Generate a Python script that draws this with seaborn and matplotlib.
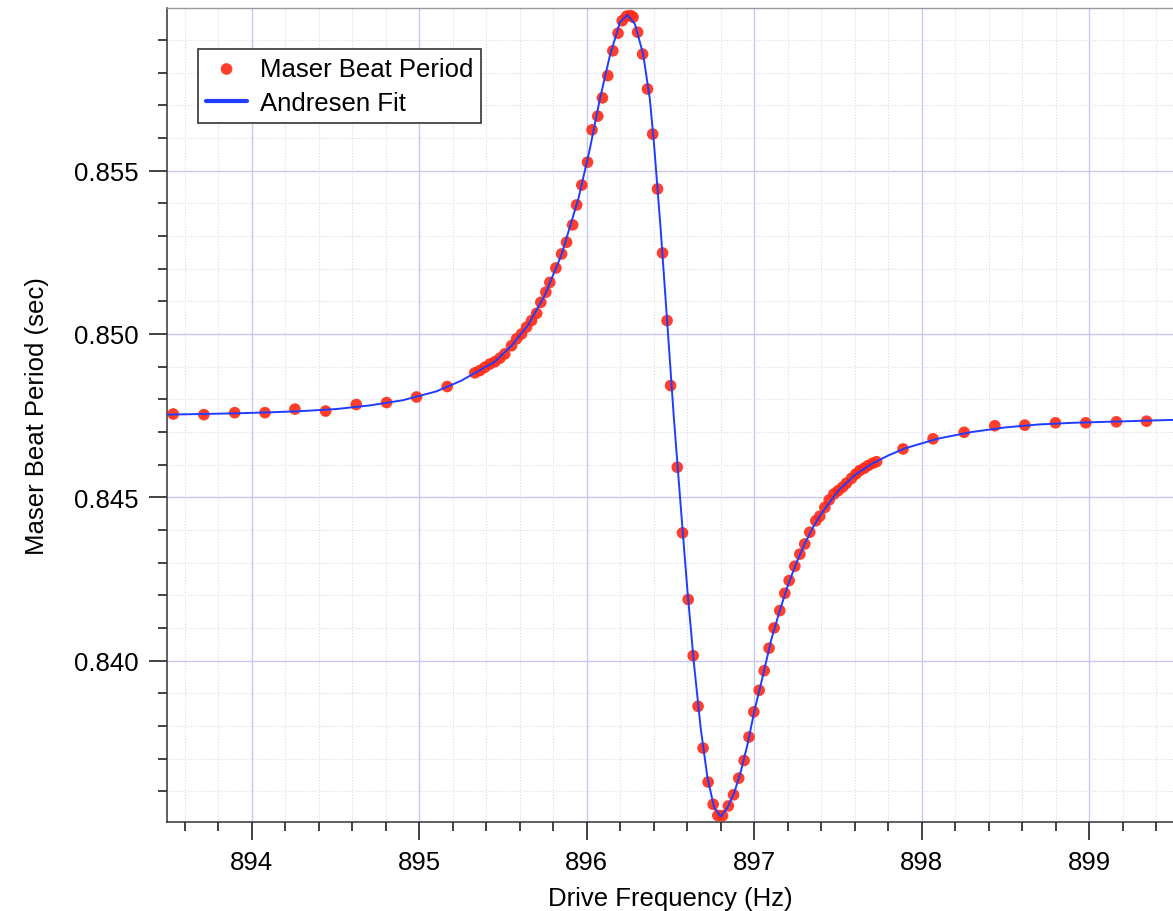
import matplotlib
matplotlib.use("Agg")
import matplotlib.pyplot as plt
import seaborn as sns
import pandas as pd
from matplotlib.ticker import MultipleLocator, FormatStrFormatter

# ---- data ----
freq = [893.530, 893.713, 893.897, 894.078, 894.257, 894.440, 894.623, 894.804, 894.983, 895.166,
        895.331, 895.361, 895.391, 895.421, 895.451, 895.481, 895.510, 895.550, 895.580, 895.610,
        895.640, 895.670, 895.700, 895.725, 895.755, 895.779, 895.815, 895.849, 895.879, 895.915,
        895.939, 895.970, 896.004, 896.031, 896.065, 896.093, 896.125, 896.155, 896.186, 896.211,
        896.237, 896.261, 896.276, 896.303, 896.333, 896.362, 896.393, 896.422, 896.452, 896.479,
        896.500, 896.540, 896.571, 896.605, 896.635, 896.664, 896.694, 896.724, 896.754, 896.782,
        896.810, 896.845, 896.876, 896.907, 896.939, 896.968, 896.997, 897.029, 897.059, 897.088,
        897.118, 897.152, 897.182, 897.208, 897.242, 897.272, 897.301, 897.331, 897.367, 897.391,
        897.421, 897.447, 897.475, 897.500, 897.527, 897.550, 897.580, 897.606, 897.630, 897.656,
        897.679, 897.706, 897.730, 897.888, 898.067, 898.253, 898.436, 898.615, 898.798, 898.979,
        899.162, 899.342]
period = [0.84755, 0.84753, 0.84759, 0.84759, 0.84770, 0.84764, 0.84784, 0.84790, 0.84807, 0.84839,
          0.84881, 0.84888, 0.84898, 0.84908, 0.84915, 0.84926, 0.84939, 0.84964, 0.84985, 0.85000,
          0.85021, 0.85041, 0.85063, 0.85097, 0.85128, 0.85158, 0.85202, 0.85245, 0.85281, 0.85334,
          0.85395, 0.85456, 0.85526, 0.85625, 0.85667, 0.85723, 0.85791, 0.85867, 0.85921, 0.85959,
          0.85973, 0.85975, 0.85970, 0.85924, 0.85857, 0.85750, 0.85612, 0.85444, 0.85248, 0.85041,
          0.84842, 0.84592, 0.84391, 0.84187, 0.84015, 0.83860, 0.83732, 0.83628, 0.83560, 0.83526,
          0.83525, 0.83555, 0.83589, 0.83640, 0.83694, 0.83766, 0.83843, 0.83909, 0.83969, 0.84038,
          0.84100, 0.84153, 0.84206, 0.84245, 0.84289, 0.84326, 0.84357, 0.84393, 0.84428, 0.84442,
          0.84469, 0.84492, 0.84510, 0.84520, 0.84531, 0.84543, 0.84558, 0.84571, 0.84582, 0.84589,
          0.84597, 0.84604, 0.84609, 0.84648, 0.84679, 0.84699, 0.84719, 0.84721, 0.84728, 0.84728,
          0.84731, 0.84733]

fit_freq = [893.49, 893.70, 893.90, 894.10, 894.30, 894.50, 894.70, 894.90, 895.10, 895.25,
            895.35, 895.45, 895.55, 895.65, 895.75, 895.85, 895.95, 896.018, 896.078, 896.137,
            896.197, 896.241, 896.287, 896.336, 896.376, 896.40, 896.44, 896.48, 896.52, 896.56,
            896.60, 896.64, 896.68, 896.72, 896.76, 896.80, 896.84, 896.88, 896.92, 896.96,
            897.00, 897.05, 897.10, 897.15, 897.20, 897.25, 897.30, 897.35, 897.40, 897.50,
            897.60, 897.70, 897.80, 897.90, 898.10, 898.30, 898.50, 898.70, 898.90, 899.10,
            899.30, 899.50]
fit_period = [0.84753, 0.84755, 0.84757, 0.84760, 0.84764, 0.84770, 0.84781, 0.84797, 0.84824, 0.84857,
              0.84886, 0.84915, 0.84964, 0.85028, 0.85120, 0.85245, 0.85415, 0.85567, 0.85720, 0.85851,
              0.85954, 0.85977, 0.85949, 0.85857, 0.85720, 0.85588, 0.85326, 0.85035, 0.84740, 0.84476,
              0.84217, 0.83988, 0.83792, 0.83642, 0.83550, 0.83522, 0.83550, 0.83595, 0.83662, 0.83745,
              0.83845, 0.83951, 0.84062, 0.84150, 0.84230, 0.84298, 0.84357, 0.84408, 0.84450, 0.84520,
              0.84568, 0.84602, 0.84628, 0.84650, 0.84680, 0.84700, 0.84714, 0.84723, 0.84728, 0.84731,
              0.84734, 0.84737]

x_ticks = [894, 895, 896, 897, 898, 899]
y_ticks = [0.840, 0.845, 0.850, 0.855]
x_label = "Drive Frequency (Hz)"
y_label = "Maser Beat Period (sec)"
data_label = "Maser Beat Period"
fit_label = "Andresen Fit"

df = pd.DataFrame({"freq": freq, "period": period})
df_fit = pd.DataFrame({"freq": fit_freq, "period": fit_period})

sns.set_style("white")
plt.rcParams["font.family"] = ["Liberation Sans", "DejaVu Sans"]
plt.rcParams["text.color"] = "black"
plt.rcParams["axes.labelcolor"] = "black"
plt.rcParams["xtick.color"] = "black"
plt.rcParams["ytick.color"] = "black"

fig = plt.figure(figsize=(11.73, 9.12), dpi=100)
ax = fig.add_axes([0.1421, 0.0976, 0.8579, 0.8925])

sns.scatterplot(data=df, x="freq", y="period", ax=ax, color="#ff2a14", s=70,
                edgecolor="none", alpha=0.9, label=data_label, zorder=3)
sns.lineplot(data=df_fit, x="freq", y="period", ax=ax, color="#1f3cff", lw=1.4,
             sort=False, estimator=None, label=fit_label, zorder=4)

ax.set_xlim(893.491, 899.50)
ax.set_ylim(0.835058, 0.85998)

ax.set_xticks(x_ticks)
ax.set_yticks(y_ticks)
ax.yaxis.set_major_formatter(FormatStrFormatter("%.3f"))
ax.xaxis.set_minor_locator(MultipleLocator(0.2))
ax.yaxis.set_minor_locator(MultipleLocator(0.001))

ax.grid(True, which="major", color="#c8c8f0", lw=1.0)
ax.grid(True, which="minor", color="#dadaee", lw=0.8, ls=":")
ax.set_axisbelow(True)

ax.tick_params(which="major", direction="out", length=13, width=1.2, color="#222222",
               labelsize=18.5, labelcolor="black", pad=7, left=True, bottom=True)
ax.tick_params(which="minor", direction="out", length=6.5, width=1.2, color="#222222",
               left=True, bottom=True)

for side in ["left", "bottom"]:
    ax.spines[side].set_color("#333333")
    ax.spines[side].set_linewidth(1.1)
ax.spines["top"].set_color("#999999")
ax.spines["top"].set_linewidth(1.0)
ax.spines["right"].set_visible(False)

ax.set_xlabel(x_label, fontsize=18.5, labelpad=9, color="black")
ax.set_ylabel(y_label, fontsize=18.5, labelpad=18, color="black")

leg = ax.legend(loc="upper left", bbox_to_anchor=(0.0314, 0.9496), fontsize=18.5,
                frameon=True, fancybox=False, edgecolor="#333333", framealpha=1,
                borderpad=0.3, handlelength=1.6, handletextpad=0.5, labelspacing=0.4,
                borderaxespad=0)
leg.get_frame().set_linewidth(1.2)
for t in leg.get_texts():
    t.set_color("black")
for ln in leg.get_lines():
    ln.set_linewidth(3)

fig.savefig("out.png", dpi=100)
